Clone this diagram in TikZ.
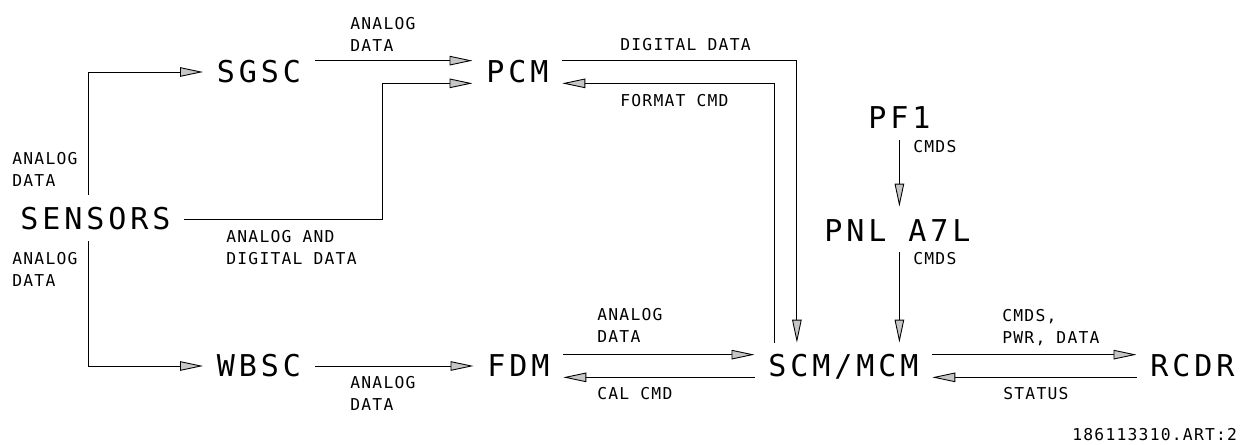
\documentclass[tikz,border=0pt]{standalone}
\usepackage{fontspec}
\usetikzlibrary{arrows.meta}
\newfontfamily\blockfont[LetterSpace=13]{DejaVu Sans Mono}
\newfontfamily\labelfont[LetterSpace=7.5]{DejaVu Sans Mono}
\tikzset{
  block/.style={font={\blockfont\fontsize{17.1}{20}\selectfont}, inner xsep=0.27cm, inner ysep=0pt,
    text height=0.44cm, text depth=0pt, anchor=base west},
  lbl/.style={font={\labelfont\fontsize{9.3}{12.8}\selectfont}, align=left, inner sep=0pt, anchor=north west},
  flow/.style={line width=0.55pt, -{Triangle[length=0.46cm, width=0.19cm, fill=gray!45, line width=0.5pt]}}
}
\begin{document}
\begin{tikzpicture}[x=0.02cm, y=-0.02cm]
	\useasboundingbox (0,0) rectangle (1243,445);
	\node[block] (sensors) at (6.5,230) {SENSORS};
	\node[block] (sgsc) at (203,83) {SGSC};
	\node[block] (wbsc) at (203,377) {WBSC};
	\node[block] (pcm) at (472.5,83) {PCM};
	\node[block] (fdm) at (473.5,377) {FDM};
	\node[block] (scm) at (754.5,377) {SCM/MCM};
	\node[block] (rcdr) at (1136.5,377) {RCDR};
	\node[block] (pfone) at (854.5,129) {PF1};
	\node[block] (pnl) at (810.5,242) {PNL A7L};
	\draw[flow, shorten <=0.26cm] ([xshift=-0.14cm]sensors.north) |- (sgsc.west);
	\draw[flow, shorten <=0.22cm] ([xshift=-0.14cm]sensors.south) |- (wbsc.west);
	\draw[flow] (sensors.east) -| ([xshift=-1.81cm]pcm.south west) -- (pcm.south west);
	\draw[flow] (sgsc.north east) -- (pcm.north west);
	\draw[flow] (wbsc.east) -- (fdm.west);
	\draw[flow, shorten >=0.24cm] (pcm.north east) -| ([xshift=-0.93cm]scm.north);
	\draw[flow, shorten <=0.24cm] ([xshift=-1.37cm]scm.north) |- (pcm.south east);
	\draw[flow] (fdm.north east) -- (scm.north west);
	\draw[flow] (scm.south west) -- (fdm.south east);
	\draw[flow] (scm.north east) -- (rcdr.north west);
	\draw[flow] (rcdr.south west) -- (scm.south east);
	\draw[flow, shorten <=0.22cm, shorten >=0.26cm] (pfone.south) -- (pfone.south |- pnl.north);
	\draw[flow, shorten <=0.2cm, shorten >=0.24cm] (pfone.south |- pnl.south) -- (pfone.south |- scm.north);
	\node[lbl] (sgsclbl) at (350,17) {ANALOG\\DATA};
	\node[lbl] (uplbl) at (12,152) {ANALOG\\DATA};
	\node[lbl] (downlbl) at (12,252) {ANALOG\\DATA};
	\node[lbl] (mixlbl) at (226,230) {ANALOG AND\\DIGITAL DATA};
	\node[lbl] (wbsclbl) at (350,376) {ANALOG\\DATA};
	\node[lbl] (diglbl) at (620,38) {DIGITAL DATA};
	\node[lbl] (fmtlbl) at (620,94) {FORMAT CMD};
	\node[lbl] (fdmlbl) at (597,308) {ANALOG\\DATA};
	\node[lbl] (callbl) at (597,387) {CAL CMD};
	\node[lbl] (pflbl) at (913,140) {CMDS};
	\node[lbl] (pnllbl) at (913,252) {CMDS};
	\node[lbl] (rcdrlbl) at (1002,309) {CMDS,\\PWR, DATA};
	\node[lbl] (statlbl) at (1003,387) {STATUS};
	\node[lbl] (artlbl) at (1072,428) {186113310.ART:2};
\end{tikzpicture}
\end{document}
